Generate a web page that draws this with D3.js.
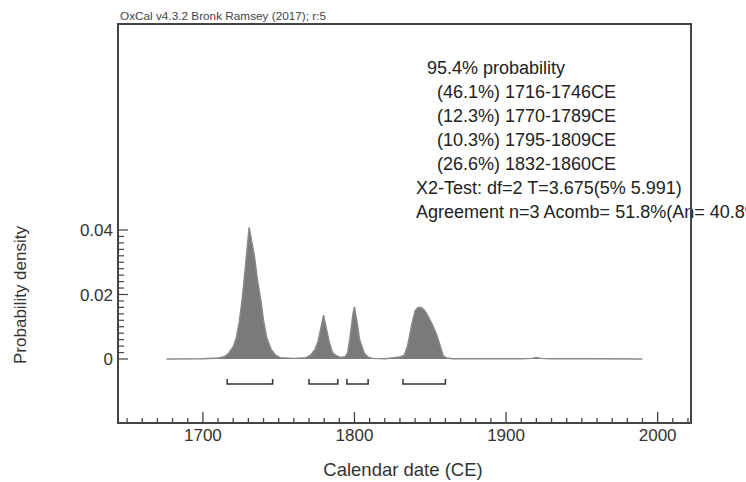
<!DOCTYPE html>
<meta charset="utf-8">
<style>
html, body { margin: 0; padding: 0; overflow: hidden; background: #fff; }
svg { display: block; }
text { font-family: "Liberation Sans", Arial, sans-serif; fill: #222; }
.tick-label { font-size: 17px; fill: #333; }
.axis-title { font-size: 18.5px; fill: #333; }
.note { font-size: 18px; }
</style>
<svg width="746" height="482"></svg>
<script src="https://d3js.org/d3.v7.min.js"></script>
<script>

// probability density of the combined date
var years = [1676, 1700, 1710, 1714, 1717, 1720, 1722, 1724, 1726, 1728, 1730.5, 1732, 1734, 1736, 1738.5,
  1740, 1742, 1745, 1748, 1751, 1760, 1768, 1771, 1774, 1776, 1778, 1779.6, 1781, 1783.5, 1785.5, 1788,
  1791, 1794, 1795.5, 1797, 1799, 1800, 1801.5, 1803.5, 1806.5, 1809, 1812, 1820, 1826, 1830, 1833, 1835,
  1837.5, 1840, 1842, 1844, 1846, 1848, 1851.5, 1854, 1856, 1858.5, 1861, 1865, 1880, 1910, 1917, 1920,
  1923, 1930, 1960, 1990];
var density = [0, 0.0001, 0.0003, 0.0007, 0.0018, 0.0038, 0.0065, 0.0115, 0.0190, 0.0285, 0.0408, 0.0370, 0.0320, 0.0245, 0.0175,
  0.0120, 0.0068, 0.0030, 0.0012, 0.0004, 0.0002, 0.0004, 0.0012, 0.0030, 0.0055, 0.0100, 0.0136, 0.0105, 0.0050, 0.0020, 0.0010,
  0.0005, 0.0008, 0.0020, 0.0065, 0.0140, 0.0162, 0.0120, 0.0058, 0.0018, 0.0006, 0.0002, 0.0001, 0.0004, 0.0006, 0.0013, 0.0040,
  0.0100, 0.0150, 0.0160, 0.0160, 0.0152, 0.0138, 0.0105, 0.0078, 0.0050, 0.0010, 0.0003, 0.0001, 0.0001, 0.0001, 0.0002, 0.0005,
  0.0002, 0.0001, 0.0001, 0];

// 95.4% ranges
var rangeFrom = [1716, 1770, 1795, 1832];
var rangeTo = [1746, 1789, 1809, 1860];

var xTicks = [1700, 1800, 1900, 2000];
var yTicks = [0, 0.02, 0.04];

var notes = [
  ["95.4% probability", 427],
  ["(46.1%) 1716-1746CE", 437],
  ["(12.3%) 1770-1789CE", 437],
  ["(10.3%) 1795-1809CE", 437],
  ["(26.6%) 1832-1860CE", 437],
  ["X2-Test: df=2 T=3.675(5% 5.991)", 416],
  ["Agreement n=3 Acomb= 51.8%(An= 40.8%", 416]
];

var svg = d3.select("svg");
var plotL = 118, plotR = 691, plotT = 24, plotB = 423;

var x = d3.scaleLinear().domain([1644, 2022]).range([plotL, plotR]);
var y = d3.scaleLinear().domain([0, 0.04]).range([359, 230]);

var pts = years.map(function(d, i) { return [d, density[i]]; });

svg.append("path")
    .datum(pts)
    .attr("fill", "#7a7a7a")
    .attr("d", d3.area().x(function(d) { return x(d[0]); }).y0(y(0)).y1(function(d) { return y(d[1]); }));

svg.append("path")
    .datum(pts)
    .attr("fill", "none")
    .attr("stroke", "#8a8a8a")
    .attr("stroke-width", 1.4)
    .attr("d", d3.line().x(function(d) { return x(d[0]); }).y(function(d) { return y(d[1]); }));

// range brackets
var by = 384;
svg.selectAll(".bracket")
  .data(rangeFrom)
  .enter().append("path")
    .attr("class", "bracket")
    .attr("fill", "none")
    .attr("stroke", "#333")
    .attr("stroke-width", 1.5)
    .attr("d", function(d, i) {
      var a = x(d), b = x(rangeTo[i]);
      return "M" + a + "," + (by - 5) + "V" + by + "H" + b + "V" + (by - 5);
    });

// ticks
var xMinor = d3.range(1650, 2021, 10);
svg.selectAll(".xminor")
  .data(xMinor)
  .enter().append("line")
    .attr("x1", function(d) { return x(d); })
    .attr("x2", function(d) { return x(d); })
    .attr("y1", plotB)
    .attr("y2", function(d) { return d % 100 === 0 ? plotB - 11 : plotB - 5; })
    .attr("stroke", "#444")
    .attr("stroke-width", 1.3);

var yMinor = d3.range(0, 0.0401, 0.002);
svg.selectAll(".yminor")
  .data(yMinor)
  .enter().append("line")
    .attr("x1", plotL)
    .attr("x2", function(d, i) { return i % 10 === 0 ? plotL + 10 : plotL + 6; })
    .attr("y1", function(d) { return y(d); })
    .attr("y2", function(d) { return y(d); })
    .attr("stroke", "#444")
    .attr("stroke-width", 1.2);

svg.selectAll(".xlabel")
  .data(xTicks)
  .enter().append("text")
    .attr("class", "tick-label")
    .attr("x", function(d) { return x(d); })
    .attr("y", 441)
    .attr("text-anchor", "middle")
    .text(function(d) { return d; });

svg.selectAll(".ylabel")
  .data(yTicks)
  .enter().append("text")
    .attr("class", "tick-label")
    .attr("x", 113)
    .attr("y", function(d) { return y(d) + 6; })
    .attr("text-anchor", "end")
    .text(function(d) { return d === 0 ? "0" : d.toFixed(2); });

svg.append("text")
    .attr("class", "axis-title")
    .attr("x", 403)
    .attr("y", 476)
    .attr("text-anchor", "middle")
    .text("Calendar date (CE)");

svg.append("text")
    .attr("class", "tick-label")
    .attr("transform", "translate(26,295) rotate(-90)")
    .attr("text-anchor", "middle")
    .text("Probability density");

svg.selectAll(".note")
  .data(notes)
  .enter().append("text")
    .attr("class", "note")
    .attr("x", function(d) { return d[1]; })
    .attr("y", function(d, i) { return 74 + i * 24; })
    .text(function(d) { return d[0]; });

svg.append("text")
    .attr("x", 120)
    .attr("y", 20)
    .attr("textLength", 206)
    .attr("lengthAdjust", "spacingAndGlyphs")
    .style("font-size", "10.5px")
    .style("fill", "#444")
    .text("OxCal v4.3.2 Bronk Ramsey (2017); r:5");

// frame
svg.append("rect")
    .attr("x", plotL)
    .attr("y", plotT)
    .attr("width", plotR - plotL)
    .attr("height", plotB - plotT)
    .attr("fill", "none")
    .attr("stroke", "#444")
    .attr("stroke-width", 2);

</script>
